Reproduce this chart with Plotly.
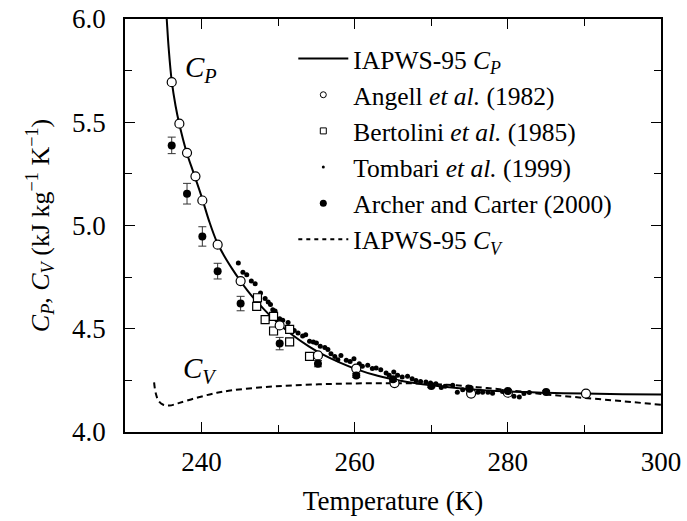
import plotly.graph_objects as go

# IAPWS-95 curves
cp_T = [235.2, 235.45, 235.7, 236.1, 236.6, 237.1, 238.0, 239.0, 240.0, 241.0, 242.0, 243.0, 244.0,
        245.0, 246.0, 247.0, 248.0, 249.0, 250.0, 252.0, 254.0, 256.0, 258.0, 260.0, 263.0,
        266.0, 270.0, 275.0, 280.0, 285.0, 290.0, 295.0, 300.0]
cp_C = [6.15, 6.0, 5.86, 5.70, 5.58, 5.49, 5.36, 5.25, 5.14, 5.02, 4.92, 4.85, 4.79,
        4.735, 4.685, 4.64, 4.60, 4.562, 4.527, 4.466, 4.415, 4.372, 4.337, 4.307, 4.272,
        4.248, 4.226, 4.207, 4.196, 4.190, 4.186, 4.183, 4.181]

cv_T = [233.8, 234.0, 234.4, 235.0, 235.8, 237.0, 239.5, 242.0, 244.0, 248.0, 252.0, 257.0,
        262.0, 267.0, 272.0, 276.0, 280.0, 285.0, 290.0, 295.0, 300.0]
cv_C = [4.24, 4.19, 4.15, 4.132, 4.128, 4.14, 4.167, 4.19, 4.202, 4.217, 4.226, 4.233,
        4.236, 4.236, 4.229, 4.217, 4.203, 4.182, 4.165, 4.149, 4.132]

# Angell et al. (1982)
angell_T = [236.1, 237.1, 238.1, 239.2, 240.1, 242.1, 245.1, 250.2, 255.2, 260.2, 265.2, 275.2, 280.0, 290.2]
angell_C = [5.694, 5.493, 5.352, 5.238, 5.121, 4.907, 4.731, 4.516, 4.371, 4.307, 4.237, 4.186, 4.190, 4.186]

# Bertolini et al. (1985)
bert_T = [247.3, 247.2, 248.3, 249.4, 249.4, 251.5, 251.5, 254.1]
bert_C = [4.650, 4.608, 4.544, 4.560, 4.489, 4.497, 4.436, 4.366]

# Tombari et al. (1999)
tomb_T = [244.8, 245.4, 245.9, 246.5, 247.0, 247.7, 248.3, 248.7, 249.0, 249.3, 249.6, 250.2, 250.6,
          251.3, 252.1, 252.6, 253.2, 253.6, 254.1, 254.6, 255.0, 255.5, 256.1, 256.5, 256.9, 257.4,
          257.8, 258.2, 258.9, 259.4, 259.9, 260.6, 261.0, 261.7, 262.3, 262.8, 263.4, 264.1, 264.5,
          265.1, 265.6, 266.2, 266.9, 267.5, 268.0, 268.6, 269.3, 269.9, 270.6, 271.3, 271.8, 272.8,
          273.4, 274.1, 274.8, 276.1, 276.7, 277.4, 278.0, 279.3, 280.8, 281.5, 282.1, 282.8]
tomb_C = [4.818, 4.774, 4.762, 4.731, 4.718, 4.673, 4.646, 4.629, 4.617, 4.592, 4.586, 4.549, 4.541,
          4.530, 4.492, 4.479, 4.465, 4.471, 4.439, 4.436, 4.431, 4.415, 4.409, 4.399, 4.379, 4.366,
          4.350, 4.371, 4.347, 4.342, 4.355, 4.331, 4.318, 4.323, 4.307, 4.310, 4.302, 4.286, 4.275,
          4.291, 4.275, 4.266, 4.270, 4.258, 4.250, 4.245, 4.242, 4.237, 4.234, 4.215, 4.221, 4.226,
          4.193, 4.205, 4.218, 4.193, 4.193, 4.193, 4.188, 4.196, 4.173, 4.169, 4.186, 4.191]

# Archer and Carter (2000)
arch_T = [236.1, 238.1, 240.1, 242.1, 245.1, 250.2, 255.2, 260.2, 265.0, 270.0, 275.0, 280.0, 285.0]
arch_C = [5.388, 5.154, 4.947, 4.779, 4.622, 4.428, 4.331, 4.274, 4.255, 4.223, 4.210, 4.198, 4.194]
arch_E = [0.040, 0.050, 0.047, 0.038, 0.035, 0.030, 0.015, 0.010, 0.010, 0.008, 0.008, 0.006, 0.006]

FONT = "Liberation Serif"
fig = go.Figure()

fig.add_trace(go.Scatter(x=cp_T, y=cp_C, mode="lines", line=dict(color="black", width=2, shape="spline"),
                         showlegend=False))
fig.add_trace(go.Scatter(x=cv_T, y=cv_C, mode="lines",
                         line=dict(color="black", width=2, dash="6px,4px", shape="spline"), showlegend=False))
fig.add_trace(go.Scatter(x=tomb_T, y=tomb_C, mode="markers",
                         marker=dict(symbol="circle", size=5, color="black"), showlegend=False))
fig.add_trace(go.Scatter(x=bert_T, y=bert_C, mode="markers",
                         marker=dict(symbol="square", size=8, color="white", line=dict(color="black", width=1.2)),
                         showlegend=False))
fig.add_trace(go.Scatter(x=angell_T, y=angell_C, mode="markers",
                         marker=dict(symbol="circle", size=9, color="white", line=dict(color="black", width=1.2)),
                         showlegend=False))
fig.add_trace(go.Scatter(x=arch_T, y=arch_C, mode="markers",
                         marker=dict(symbol="circle", size=8, color="black"),
                         error_y=dict(type="data", array=arch_E, visible=True, color="#333", thickness=1, width=4),
                         showlegend=False))

# legend entries
fig.add_trace(go.Scatter(x=[None], y=[None], mode="lines", line=dict(color="black", width=2),
                         name="IAPWS-95 <i>C</i><sub><i>P</i></sub>"))
fig.add_trace(go.Scatter(x=[None], y=[None], mode="markers",
                         marker=dict(symbol="circle", size=6, color="white", line=dict(color="black", width=1)),
                         name="Angell <i>et al.</i> (1982)"))
fig.add_trace(go.Scatter(x=[None], y=[None], mode="markers",
                         marker=dict(symbol="square", size=6, color="white", line=dict(color="black", width=1)),
                         name="Bertolini <i>et al.</i> (1985)"))
fig.add_trace(go.Scatter(x=[None], y=[None], mode="markers",
                         marker=dict(symbol="circle", size=3, color="black"),
                         name="Tombari <i>et al.</i> (1999)"))
fig.add_trace(go.Scatter(x=[None], y=[None], mode="markers",
                         marker=dict(symbol="circle", size=7, color="black"),
                         name="Archer and Carter (2000)"))
fig.add_trace(go.Scatter(x=[None], y=[None], mode="lines", line=dict(color="black", width=2, dash="4px,4px"),
                         name="IAPWS-95 <i>C</i><sub><i>V</i></sub>"))

axis_common = dict(showline=True, linecolor="black", linewidth=1.5, mirror="ticks", ticks="inside",
                   ticklen=10, tickwidth=1.2, tickcolor="black", showgrid=False, zeroline=False,
                   automargin=False, tickfont=dict(family=FONT, size=27, color="black"))

fig.update_layout(
    width=687, height=521,
    margin=dict(l=125, r=26, t=19, b=89),
    paper_bgcolor="white", plot_bgcolor="white",
    font=dict(family=FONT, size=25, color="black"),
    xaxis=dict(range=[230, 300], dtick=20, tick0=240,
               minor=dict(dtick=10, ticks="inside", ticklen=7, tickcolor="black", tickwidth=1.2),
               title=dict(text="Temperature (K)", font=dict(family=FONT, size=27)),
               ticklabelstandoff=5, **axis_common),
    yaxis=dict(range=[4.0, 6.0], dtick=0.5, tickformat=".1f",
               minor=dict(dtick=0.25, ticks="inside", ticklen=7, tickcolor="black", tickwidth=1.2),
               title=dict(text="<i>C</i><sub><i>P</i></sub>, <i>C</i><sub><i>V</i></sub> (kJ kg<sup>−1</sup> K<sup>−1</sup>)",
                          font=dict(family=FONT, size=26)),
               ticklabelstandoff=12, **axis_common),
    legend=dict(x=0.314, y=0.96, xanchor="left", yanchor="top", bgcolor="rgba(0,0,0,0)",
                font=dict(family=FONT, size=25.5), tracegroupgap=0, itemwidth=50),
    annotations=[
        dict(x=239.9, y=5.76, xref="x", yref="y", text="<i>C</i><sub><i>P</i></sub>", showarrow=False,
             font=dict(family=FONT, size=29)),
        dict(x=239.8, y=4.30, xref="x", yref="y", text="<i>C</i><sub><i>V</i></sub>", showarrow=False,
             font=dict(family=FONT, size=29)),
    ],
)

fig.write_html("out.html")
